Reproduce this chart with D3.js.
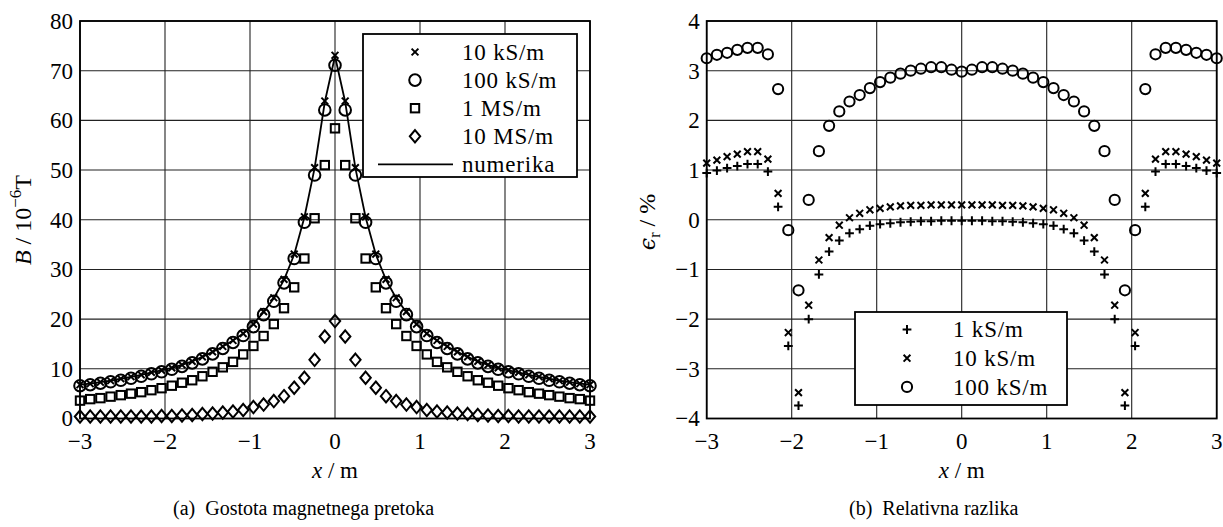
<!DOCTYPE html>
<html>
<head>
<meta charset="utf-8">
<script src="https://cdn.jsdelivr.net/npm/d3@7"></script>
<style>
  body { margin: 0; background: #fff; }
  svg text { font-family: "Liberation Serif", "Times New Roman", serif; fill: #000; white-space: pre; }
</style>
</head>
<body>
<svg id="fig" width="1223" height="527"></svg>
<script>
// positions along the x axis (m)
var xs = [-3, -2.88, -2.76, -2.64, -2.52, -2.4, -2.28, -2.16, -2.04, -1.92, -1.8, -1.68, -1.56,
  -1.44, -1.32, -1.2, -1.08, -0.96, -0.84, -0.72, -0.6, -0.48, -0.36, -0.24, -0.12, 0,
  0.12, 0.24, 0.36, 0.48, 0.6, 0.72, 0.84, 0.96, 1.08, 1.2, 1.32, 1.44, 1.56, 1.68, 1.8,
  1.92, 2.04, 2.16, 2.28, 2.4, 2.52, 2.64, 2.76, 2.88, 3];

// (a) flux density, 10^-6 T
var b10k = [6.8, 7.0, 7.3, 7.6, 8.0, 8.4, 8.8, 9.3, 9.7, 10.2, 10.8, 11.5, 12.4, 13.4, 14.5, 15.7, 17.1,
  19.0, 21.5, 24.3, 28.0, 33.1, 40.6, 50.5, 63.9, 73.1, 63.9, 50.5, 40.6, 33.1, 28.0, 24.3, 21.5, 19.0,
  17.1, 15.7, 14.5, 13.4, 12.4, 11.5, 10.8, 10.2, 9.7, 9.3, 8.8, 8.4, 8.0, 7.6, 7.3, 7.0, 6.8];
var b100k = [6.6, 6.8, 7.1, 7.4, 7.7, 8.1, 8.5, 9.0, 9.4, 9.9, 10.5, 11.2, 12.0, 13.0, 14.1, 15.3, 16.7,
  18.5, 20.9, 23.6, 27.3, 32.2, 39.5, 49.0, 62.1, 71.1, 62.1, 49.0, 39.5, 32.2, 27.3, 23.6, 20.9, 18.5,
  16.7, 15.3, 14.1, 13.0, 12.0, 11.2, 10.5, 9.9, 9.4, 9.0, 8.5, 8.1, 7.7, 7.4, 7.1, 6.8, 6.6];
var b1M = [3.6, 3.9, 4.1, 4.4, 4.7, 5.0, 5.3, 5.7, 6.1, 6.6, 7.2, 7.7, 8.5, 9.4, 10.3, 11.4, 12.9,
  14.6, 16.6, 19.0, 22.2, 26.4, 32.2, 40.3, 51.0, 58.4, 51.0, 40.3, 32.2, 26.4, 22.2, 19.0, 16.6, 14.6,
  12.9, 11.4, 10.3, 9.4, 8.5, 7.7, 7.2, 6.6, 6.1, 5.7, 5.3, 5.0, 4.7, 4.4, 4.1, 3.9, 3.6];
var b10M = [0.4, 0.4, 0.4, 0.4, 0.4, 0.4, 0.4, 0.4, 0.5, 0.5, 0.6, 0.7, 0.9, 1.0, 1.2, 1.4, 1.7,
  2.3, 2.8, 3.5, 4.5, 6.2, 8.2, 11.8, 16.5, 19.6, 16.5, 11.8, 8.2, 6.2, 4.5, 3.5, 2.8, 2.3,
  1.7, 1.4, 1.2, 1.0, 0.9, 0.7, 0.6, 0.5, 0.5, 0.4, 0.4, 0.4, 0.4, 0.4, 0.4, 0.4, 0.4];
var numerika = [6.8, 7.0, 7.3, 7.6, 8.0, 8.4, 8.8, 9.3, 9.7, 10.2, 10.8, 11.5, 12.4, 13.4, 14.5, 15.7, 17.1,
  19.0, 21.4, 24.2, 27.9, 33.0, 40.5, 50.4, 63.7, 72.9, 63.7, 50.4, 40.5, 33.0, 27.9, 24.2, 21.4, 19.0,
  17.1, 15.7, 14.5, 13.4, 12.4, 11.5, 10.8, 10.2, 9.7, 9.3, 8.8, 8.4, 8.0, 7.6, 7.3, 7.0, 6.8];

// (b) relative difference, %
var e1k = [0.94, 0.99, 1.04, 1.08, 1.12, 1.12, 0.97, 0.26, -2.54, -3.74, -2.0, -1.1, -0.64,
  -0.42, -0.27, -0.19, -0.12, -0.09, -0.07, -0.05, -0.04, -0.03, -0.03, -0.02, -0.02, -0.02,
  -0.02, -0.02, -0.03, -0.03, -0.04, -0.05, -0.07, -0.09, -0.12, -0.19, -0.27, -0.42, -0.64,
  -1.1, -2.0, -3.74, -2.54, 0.26, 0.97, 1.12, 1.12, 1.08, 1.04, 0.99, 0.94];
var e10k = [1.14, 1.2, 1.27, 1.32, 1.37, 1.37, 1.22, 0.53, -2.27, -3.48, -1.72, -0.81, -0.36,
  -0.11, 0.04, 0.13, 0.2, 0.23, 0.26, 0.28, 0.29, 0.29, 0.3, 0.3, 0.3, 0.3,
  0.3, 0.3, 0.3, 0.29, 0.29, 0.28, 0.26, 0.23, 0.2, 0.13, 0.04, -0.11, -0.36,
  -0.81, -1.72, -3.48, -2.27, 0.53, 1.22, 1.37, 1.37, 1.32, 1.27, 1.2, 1.14];
var e100k = [3.25, 3.32, 3.36, 3.42, 3.46, 3.46, 3.33, 2.63, -0.21, -1.42, 0.4, 1.38, 1.89,
  2.18, 2.38, 2.51, 2.65, 2.77, 2.86, 2.94, 3.0, 3.04, 3.07, 3.07, 3.02, 2.98,
  3.02, 3.07, 3.07, 3.04, 3.0, 2.94, 2.86, 2.77, 2.65, 2.51, 2.38, 2.18, 1.89,
  1.38, 0.4, -1.42, -0.21, 2.63, 3.33, 3.46, 3.46, 3.42, 3.36, 3.32, 3.25];

// ticks and legend labels
var xTicks = [-3, -2, -1, 0, 1, 2, 3];
var yTicksA = [0, 10, 20, 30, 40, 50, 60, 70, 80];
var yTicksB = [-4, -3, -2, -1, 0, 1, 2, 3, 4];
var legendA = ["10 kS/m", "100 kS/m", "1 MS/m", "10 MS/m", "numerika"];
var legendB = ["1 kS/m", "10 kS/m", "100 kS/m"];

var svg = d3.select("#fig");

// marker shapes, centred on 0,0
var shapes = {
  cross: function(s) { s.append("path").attr("d", "M-3.4,-3.4L3.4,3.4M-3.4,3.4L3.4,-3.4"); },
  plus: function(s) { s.append("path").attr("d", "M-4.4,0H4.4M0,-4.4V4.4"); },
  circle: function(s) { s.append("circle").attr("r", 5.8); },
  circleSmall: function(s) { s.append("circle").attr("r", 5.1); },
  square: function(s) { s.append("rect").attr("x", -4.2).attr("y", -4.2).attr("width", 8.4).attr("height", 8.4); },
  diamond: function(s) { s.append("path").attr("d", "M0,-6.2L5.2,0L0,6.2L-5.2,0Z"); }
};

function drawMarker(g, shape, x, y) {
  var m = g.append("g")
    .attr("transform", "translate(" + x + "," + y + ")")
    .attr("fill", "none")
    .attr("stroke", "#000")
    .attr("stroke-width", 2);
  shapes[shape](m);
}

// build one panel: frame, grid, tick labels
function makePanel(x, y, yTicks) {
  var g = svg.append("g");
  var x0 = x.range()[0], x1 = x.range()[1];
  var y0 = y.range()[0], y1 = y.range()[1];

  // grid lines
  g.selectAll(".gx").data(xTicks).enter().append("line")
    .attr("x1", function(d) { return x(d); }).attr("x2", function(d) { return x(d); })
    .attr("y1", y1).attr("y2", y0)
    .attr("stroke", "#222").attr("stroke-width", 1.1);
  g.selectAll(".gy").data(yTicks).enter().append("line")
    .attr("x1", x0).attr("x2", x1)
    .attr("y1", function(d) { return y(d); }).attr("y2", function(d) { return y(d); })
    .attr("stroke", "#222").attr("stroke-width", 1.1);

  // frame
  g.append("rect")
    .attr("x", x0).attr("y", y1)
    .attr("width", x1 - x0).attr("height", y0 - y1)
    .attr("fill", "none").attr("stroke", "#000").attr("stroke-width", 1.8);

  // tick labels
  var fmt = d3.format("d");
  g.selectAll(".tx").data(xTicks).enter().append("text")
    .attr("x", function(d) { return x(d); })
    .attr("y", y0 + 30)
    .attr("text-anchor", "middle")
    .style("font-size", "23px")
    .text(function(d) { return fmt(d); });
  g.selectAll(".ty").data(yTicks).enter().append("text")
    .attr("x", x0 - 7)
    .attr("y", function(d) { return y(d); })
    .attr("dy", "0.34em")
    .attr("text-anchor", "end")
    .style("font-size", "23px")
    .text(function(d) { return fmt(d); });

  // x label
  var xl = g.append("text")
    .attr("x", (x0 + x1) / 2)
    .attr("y", y0 + 59)
    .attr("text-anchor", "middle")
    .style("font-size", "23px");
  xl.append("tspan").style("font-style", "italic").text("x");
  xl.append("tspan").text(" / m");

  return g;
}

// ---------- panel (a) ----------
var xA = d3.scaleLinear().domain([-3, 3]).range([80, 590]);
var yA = d3.scaleLinear().domain([0, 80]).range([418.5, 21]);
var gA = makePanel(xA, yA, yTicksA);

// numerical solution line
var line = d3.line()
  .x(function(d, i) { return xA(xs[i]); })
  .y(function(d) { return yA(d); });
gA.append("path")
  .datum(numerika)
  .attr("d", line)
  .attr("fill", "none")
  .attr("stroke", "#000")
  .attr("stroke-width", 1.8);

var seriesA = [[b10k, "cross"], [b100k, "circle"], [b1M, "square"], [b10M, "diamond"]];
seriesA.forEach(function(s) {
  s[0].forEach(function(v, i) { drawMarker(gA, s[1], xA(xs[i]), yA(v)); });
});

// y label (a)
var ylA = svg.append("text")
  .attr("transform", "translate(31,220) rotate(-90)")
  .attr("text-anchor", "middle")
  .style("font-size", "24px");
ylA.append("tspan").style("font-style", "italic").text("B");
ylA.append("tspan").text(" / 10");
ylA.append("tspan").attr("dy", -10).style("font-size", "17px").text("\u22126");
ylA.append("tspan").attr("dy", 10).text("T");

// legend (a)
var legA = svg.append("g");
legA.append("rect")
  .attr("x", 363).attr("y", 34).attr("width", 214).attr("height", 143)
  .attr("fill", "#fff").attr("stroke", "#000").attr("stroke-width", 1.8);
var legShapesA = ["cross", "circle", "square", "diamond", null];
legendA.forEach(function(lbl, i) {
  var yy = 52 + i * 28.1;
  if (legShapesA[i]) {
    drawMarker(legA, legShapesA[i], 415, yy);
  } else {
    legA.append("line").attr("x1", 378).attr("x2", 453).attr("y1", yy).attr("y2", yy)
      .attr("stroke", "#000").attr("stroke-width", 1.8);
  }
  legA.append("text").attr("x", 462).attr("y", yy).attr("dy", "0.34em")
    .style("font-size", "23px").style("letter-spacing", "0.8px").text(lbl);
});

// ---------- panel (b) ----------
var xB = d3.scaleLinear().domain([-3, 3]).range([706.7, 1216.7]);
var yB = d3.scaleLinear().domain([-4, 4]).range([418.5, 21]);
var gB = makePanel(xB, yB, yTicksB);

var seriesB = [[e1k, "plus"], [e10k, "cross"], [e100k, "circleSmall"]];
seriesB.forEach(function(s) {
  s[0].forEach(function(v, i) { drawMarker(gB, s[1], xB(xs[i]), yB(v)); });
});

// y label (b)
var ylB = svg.append("text")
  .attr("transform", "translate(655,222) rotate(-90)")
  .attr("text-anchor", "middle")
  .style("font-size", "24px");
ylB.append("tspan").style("font-style", "italic").style("font-family", "DejaVu Serif")
  .style("font-size", "22px").text("\u03f5");
ylB.append("tspan").attr("dy", 5).style("font-size", "16px").text("r");
ylB.append("tspan").attr("dy", -5).text(" / %");

// legend (b)
var legB = svg.append("g");
legB.append("rect")
  .attr("x", 855).attr("y", 312).attr("width", 212).attr("height", 93)
  .attr("fill", "#fff").attr("stroke", "#000").attr("stroke-width", 1.8);
var legShapesB = ["plus", "cross", "circleSmall"];
legendB.forEach(function(lbl, i) {
  var yy = 329.5 + i * 28.7;
  drawMarker(legB, legShapesB[i], 907, yy);
  legB.append("text").attr("x", 953).attr("y", yy).attr("dy", "0.34em")
    .style("font-size", "23px").style("letter-spacing", "0.8px").text(lbl);
});

// captions
svg.append("text").attr("x", 173).attr("y", 515)
  .style("font-size", "20px").text("(a)\u2002Gostota magnetnega pretoka");
svg.append("text").attr("x", 849).attr("y", 515)
  .style("font-size", "20px").text("(b)\u2002Relativna razlika");
</script>
</body>
</html>
